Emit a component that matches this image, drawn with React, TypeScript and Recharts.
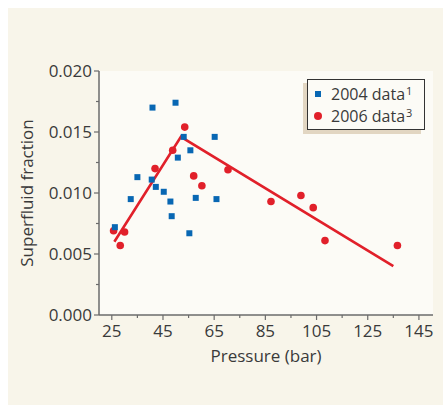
import React from "react";
import {
  ComposedChart,
  Scatter,
  Line,
  XAxis,
  YAxis,
  CartesianGrid,
} from "recharts";

// 2004 data (blue squares)
const p2004 = [26.2, 32.4, 35.0, 40.9, 40.6, 42.2, 45.3, 47.9, 48.4, 49.9, 50.8, 53.1, 55.7, 55.3, 57.8, 65.2, 65.9];
const f2004 = [0.0072, 0.0095, 0.0113, 0.017, 0.0111, 0.0105, 0.0101, 0.0093, 0.0081, 0.0174, 0.0129, 0.0146, 0.0135, 0.0067, 0.0096, 0.0146, 0.0095];

// 2006 data (red circles)
const p2006 = [25.7, 28.3, 30.0, 41.9, 48.8, 53.5, 57.0, 60.2, 70.4, 87.2, 98.9, 103.7, 108.3, 136.6];
const f2006 = [0.0069, 0.0057, 0.0068, 0.012, 0.0135, 0.0154, 0.0114, 0.0106, 0.0119, 0.0093, 0.0098, 0.0088, 0.0061, 0.0057];

// fitted line
const pFit = [26, 52, 135];
const fFit = [0.006, 0.0146, 0.004];

const xTicks = [25, 35, 45, 55, 65, 75, 85, 95, 105, 115, 125, 135, 145];
const xLabels = [25, 45, 65, 85, 105, 125, 145];
const yTicks = [0, 0.0025, 0.005, 0.0075, 0.01, 0.0125, 0.015, 0.0175, 0.02];
const yLabels = [0, 0.005, 0.01, 0.015, 0.02];

const data2004 = p2004.map((p, i) => ({ p, f: f2004[i] }));
const data2006 = p2006.map((p, i) => ({ p, f: f2006[i] }));
const dataFit = pFit.map((p, i) => ({ p, f: fFit[i] }));

const BLUE = "#0867b3";
const RED = "#e1202a";
const AXIS = "#6b6b6b";
const TEXT = "#3a3a3a";
const FONT = "'Open Sans', sans-serif";

const XTick = (props: any) => {
  const { x, y, payload } = props;
  const major = xLabels.includes(payload.value);
  return (
    <g>
      <line x1={x} x2={x} y1={y} y2={y + (major ? 5 : 3)} stroke={AXIS} strokeWidth={1.2} />
      {major && (
        <text x={x} y={y + 22} textAnchor="middle" fill={TEXT} fontSize={17} fontFamily={FONT}>
          {payload.value}
        </text>
      )}
    </g>
  );
};

const YTick = (props: any) => {
  const { x, y, payload } = props;
  const major = yLabels.some((v) => Math.abs(v - payload.value) < 1e-9);
  return (
    <g>
      <line x1={x - (major ? 5 : 3)} x2={x} y1={y} y2={y} stroke={AXIS} strokeWidth={1.2} />
      {major && (
        <text x={x - 7} y={y + 6} textAnchor="end" fill={TEXT} fontSize={17} fontFamily={FONT}>
          {payload.value.toFixed(3)}
        </text>
      )}
    </g>
  );
};

const Square = (props: any) => {
  const { cx, cy } = props;
  return <rect x={cx - 3} y={cy - 3} width={6} height={6} fill={BLUE} />;
};

const Dot = (props: any) => {
  const { cx, cy } = props;
  return <circle cx={cx} cy={cy} r={3.8} fill={RED} />;
};

const supStyle = { fontSize: 11, lineHeight: "11px", alignSelf: "flex-start" as const, marginTop: 2, marginLeft: 1 };

const LegendBox = () => (
  <div
    style={{
      position: "absolute",
      left: 299,
      top: 71,
      width: 116,
      height: 49,
      border: "1px solid #333",
      background: "#fcfbf6",
      boxShadow: "-4px 4px 0 #e2d6c2",
      fontFamily: FONT,
      fontSize: 16,
      lineHeight: "22px",
      color: TEXT,
    }}
  >
    <div style={{ display: "flex", alignItems: "center", height: 22, marginTop: 3 }}>
      <span style={{ width: 6, height: 6, background: BLUE, marginLeft: 7, marginRight: 10 }} />
      <span>2004 data</span>
      <span style={supStyle}>1</span>
    </div>
    <div style={{ display: "flex", alignItems: "center", height: 22 }}>
      <span style={{ width: 8, height: 8, borderRadius: 4, background: RED, marginLeft: 6, marginRight: 9 }} />
      <span>2006 data</span>
      <span style={supStyle}>3</span>
    </div>
  </div>
);

export default function App() {
  return (
    <div
      style={{
        position: "absolute",
        left: 8,
        top: 8,
        width: 435,
        height: 397,
        background: "#f8f5ea",
      }}
    >
      <ComposedChart width={435} height={397} margin={{ top: 63, right: 10, bottom: 43, left: 0 }}>
        <CartesianGrid fill="#fcfbf6" stroke="none" />
        <XAxis
          xAxisId="b"
          type="number"
          dataKey="p"
          domain={[20, 150.5]}
          ticks={xTicks}
          interval={0}
          height={47}
          tickSize={0}
          tickMargin={0}
          tick={<XTick />}
          axisLine={{ stroke: AXIS, strokeWidth: 1.5 }}
          label={{
            value: "Pressure (bar)",
            position: "insideBottom",
            offset: 0,
            fill: TEXT,
            fontSize: 17,
            fontFamily: FONT,
          }}
        />
        <XAxis
          xAxisId="t"
          type="number"
          dataKey="p"
          orientation="top"
          domain={[20, 150.5]}
          height={0}
          tick={false}
          tickLine={false}
          axisLine={{ stroke: AXIS, strokeWidth: 1.5 }}
        />
        <YAxis
          yAxisId="l"
          type="number"
          dataKey="f"
          domain={[0, 0.02]}
          ticks={yTicks}
          interval={0}
          width={91}
          tickSize={0}
          tickMargin={0}
          tick={<YTick />}
          axisLine={{ stroke: AXIS, strokeWidth: 1.5 }}
          label={{
            value: "Superfluid fraction",
            angle: -90,
            position: "insideLeft",
            dx: 14,
            fill: TEXT,
            fontSize: 17,
            fontFamily: FONT,
            style: { textAnchor: "middle" },
          }}
        />
        <YAxis
          yAxisId="r"
          type="number"
          dataKey="f"
          orientation="right"
          domain={[0, 0.02]}
          width={0}
          tick={false}
          tickLine={false}
          axisLine={{ stroke: AXIS, strokeWidth: 1.5 }}
        />
        <Line
          xAxisId="b"
          yAxisId="l"
          data={dataFit}
          dataKey="f"
          stroke={RED}
          strokeWidth={2.6}
          dot={false}
          type="linear"
          isAnimationActive={false}
        />
        <Scatter
          xAxisId="b"
          yAxisId="l"
          name="2006 data"
          data={data2006}
          dataKey="f"
          shape={<Dot />}
          isAnimationActive={false}
        />
        <Scatter
          xAxisId="b"
          yAxisId="l"
          name="2004 data"
          data={data2004}
          dataKey="f"
          shape={<Square />}
          isAnimationActive={false}
        />
      </ComposedChart>
      <LegendBox />
    </div>
  );
}
